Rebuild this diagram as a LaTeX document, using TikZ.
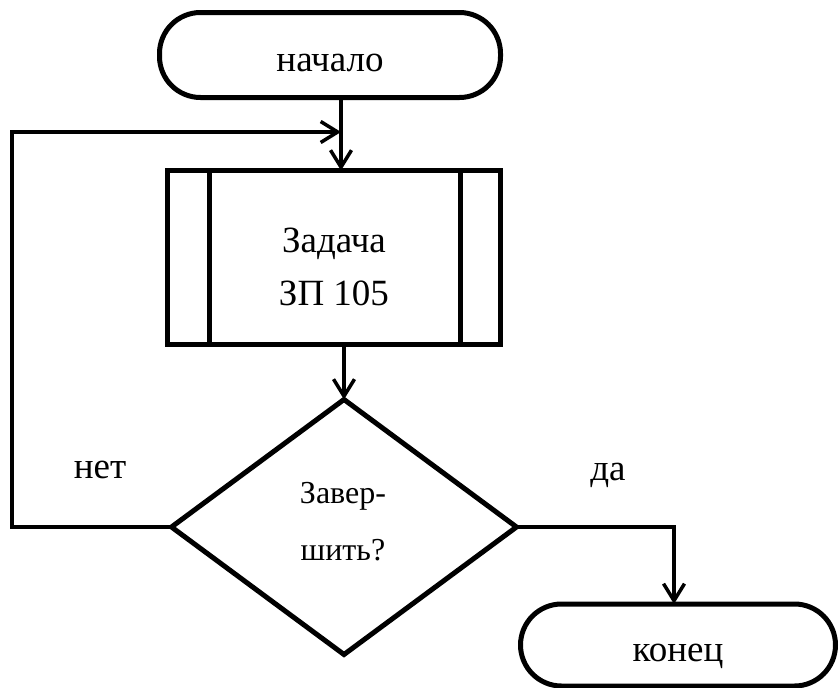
\documentclass[tikz,border=0pt]{standalone}
\usepackage{fontspec}
\setmainfont{Liberation Serif}
\usetikzlibrary{arrows.meta,shapes.geometric}

\begin{document}
\begin{tikzpicture}[x=1pt,y=-1pt,
  shapeline/.style={draw, line width=5pt, inner sep=0pt, outer sep=0pt},
  terminal/.style={shapeline, rectangle, rounded corners=41pt,
    font=\fontsize{37}{44}\selectfont, text height=32pt, text depth=0pt},
  procbox/.style={shapeline, rectangle, minimum width=333pt, minimum height=174pt},
  decision/.style={shapeline, diamond, minimum width=345pt, minimum height=255pt},
  boxtext/.style={inner sep=0pt, align=center},
  lbl/.style={inner sep=0pt, font=\fontsize{37}{44}\selectfont},
  link/.style={line width=3.5pt},
  flow/.style={link, -{Straight Barb[length=17pt,width=21pt]}}
]
\useasboundingbox (0,0) rectangle (839,688);

% blocks
\node[terminal, minimum width=341pt, minimum height=85pt] (start) at (330,55) {начало};
\node[procbox] (proc) at (334,257.5) {};
\draw[line width=5pt] ([xshift=42pt]proc.north west) -- ([xshift=42pt]proc.south west);
\draw[line width=5pt] ([xshift=-40pt]proc.north east) -- ([xshift=-40pt]proc.south east);
\node[boxtext, font=\fontsize{37}{53}\selectfont] (proctext) at (334,266.8) {Задача\\ЗП 105};

\node[decision] (dia) at (344,527) {};
\node[boxtext, font=\fontsize{32}{57}\selectfont] (diatext) at (343,522) {Завер-\\шить?};

\node[terminal, minimum width=315pt, minimum height=82pt] (end) at (678,645) {конец};

% branch labels
\node[lbl] (no) at (100,470) {нет};
\node[lbl] (yes) at (608,475) {да};

% connectors
\coordinate (join) at (341,132);
\coordinate (lcorner) at (12,132);
\coordinate (rx) at (674,0);

\draw[flow] (start.south -| join) -- (proc.north -| join);
\draw[flow] (proc.south -| dia.north) -- (dia.north);
\draw[flow] (dia.west) -| (lcorner) -- (join);
\draw[flow] (dia.east) -| (rx |- end.north);
\end{tikzpicture}
\end{document}
